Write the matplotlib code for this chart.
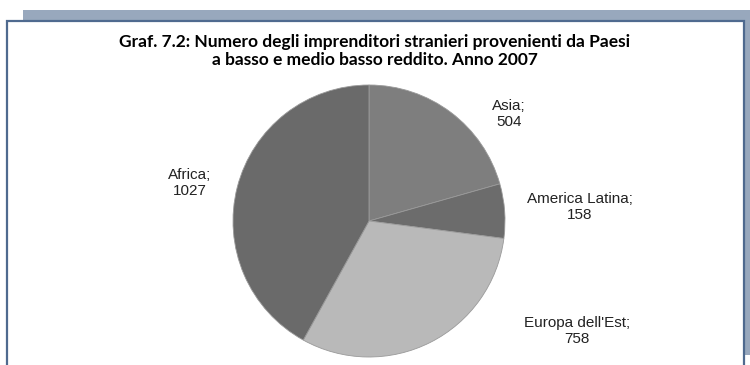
import matplotlib.pyplot as plt
from matplotlib.patches import Rectangle

# Imprenditori stranieri per area di provenienza, anno 2007
regions = ["Asia", "America Latina", "Europa dell'Est", "Africa"]
counts = [504, 158, 758, 1027]
colors = ["#7e7e7e", "#6c6c6c", "#b9b9b9", "#6a6a6a"]
title = ("Graf. 7.2: Numero degli imprenditori stranieri provenienti da Paesi\n"
         "a basso e medio basso reddito. Anno 2007")

# label centres in figure pixels (x, y from top)
label_pos = [(509, 114), (580, 207), (577, 331), (190, 183)]

W, H = 750, 365
fig = plt.figure(figsize=(W / 100, H / 100), dpi=100)

# frame with shaded offset behind it
bg = fig.add_axes([0, 0, 1, 1])
bg.set_xlim(0, W)
bg.set_ylim(H, 0)
bg.axis("off")
bg.add_patch(Rectangle((23, 10), W - 23, 345, facecolor="#98a8bd", edgecolor="none"))
bg.add_patch(Rectangle((6.5, 20.5), 737, 360, facecolor="white",
                       edgecolor="#4f6a8f", linewidth=1.6))

bg.text(375, 51, title, ha="center", va="center", fontsize=12.5,
        fontweight="bold", family="Lato", linespacing=1.15)

# pie: centre (369, 221), radius 136 px
cx, cy, r = 369, 221, 136
ax = fig.add_axes([(cx - r) / W, 1 - (cy + r) / H, 2 * r / W, 2 * r / H])
ax.pie(counts, colors=colors, startangle=90, counterclock=False,
       wedgeprops=dict(linewidth=0.6, edgecolor="#9a9a9a"))
ax.set_aspect("auto")
ax.set_xlim(-1, 1)
ax.set_ylim(-1, 1)

for name, n, (lx, ly) in zip(regions, counts, label_pos):
    bg.text(lx, ly, f"{name};\n{n}", ha="center", va="center",
            fontsize=11, family="Liberation Sans", linespacing=1.2,
            color="#222222")

fig.savefig("out.png", dpi=100)
